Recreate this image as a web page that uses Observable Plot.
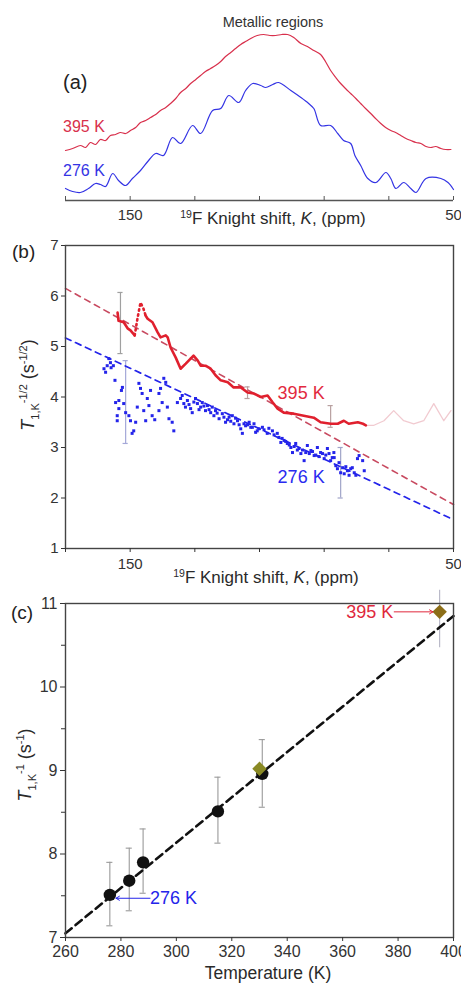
<!DOCTYPE html>
<html><head><meta charset="utf-8">
<script src="https://cdn.jsdelivr.net/npm/d3@7"></script>
<script src="https://cdn.jsdelivr.net/npm/@observablehq/plot@0.6"></script>
<style>
body{margin:0;background:#fff;}
#wrap{position:relative;width:461px;height:984px;overflow:hidden;background:#fff;}
#wrap svg{position:absolute;left:0;overflow:visible;}
</style></head><body><div id="wrap"></div>
<script>
// ---------- Panel (a): 19F spectra (ppm, intensity a.u.) ----------
const spec395 = [[170,50],[167.8,52],[165.4,55],[163.8,53],[162.3,58],[160.7,56],[159.2,61],[157.6,60],[156.1,65],[154.5,66],[153,68],[151.4,67],[149.9,70],[148.3,73],[146.8,78],[145.2,80],[143.7,83],[142.1,86],[140.6,90],[139,93],[137.5,97],[135.9,102],[134.4,108],[132.8,112],[131.3,117],[129.7,121],[128.2,125],[126.7,129],[125.1,132],[123.6,135],[122,139],[120.5,144],[118.9,148],[117.4,152],[115.8,156],[114.3,159],[112.7,162],[110.7,165],[108.7,166],[106.8,165],[105,165],[103.1,166],[101.3,166],[99.4,163],[97.2,157],[95.2,154],[93.2,150],[91.1,146],[89.6,139],[88,130],[86.4,123],[84.9,117],[83.4,112],[81.8,107],[80.2,102],[78.7,97],[77.2,92],[75.6,87],[74.1,82],[72.5,77],[71,73],[69.4,70],[67.9,68],[66.3,65],[64.7,62],[63.2,60],[61.6,58],[60.1,57],[58.5,54],[57,53],[55.5,54],[53.9,52],[52.4,51],[50.8,51]];
const spec276 = [[170,12],[167.8,9],[165.4,8],[162.9,12],[160.7,17],[159.2,16],[157.6,14],[155.4,27],[153.6,20],[151.4,15],[149.3,22],[146.8,30],[144.3,40],[142.1,47],[139.7,45],[136.9,63],[134.4,57],[130.7,75],[128.2,67],[124.5,90],[122,92],[119.5,105],[116.4,98],[114.3,110],[112.1,117],[109.6,115],[108.1,113],[105.9,116],[104.1,118],[100.3,110],[97.2,103],[94.8,97],[93.2,92],[91.1,75],[88,75],[85.8,67],[84,60],[81.8,57],[80.5,45],[78.7,35],[76.5,22],[74,18],[70.9,28],[69.4,22],[67.8,12],[65.4,18],[63.2,12],[61.6,8],[58.5,22],[53.9,22],[51.7,18],[50,11]];
const shiftTicks = [170,150,130,110,90,70,50];
const shiftLabels = [150,50];

// ---------- Panel (b): T1,K^-1/2 vs Knight shift ----------
const rate395a = [[153.9,5.67],[153.6,5.51],[152.0,5.48],[150.8,5.36],[149.9,5.32],[148.6,5.22]];
const rate395dotted = [[148.6,5.22],[147.7,5.57],[146.8,5.87],[145.9,5.75],[145.2,5.61]];
const rate395b = [[145.2,5.61],[144.6,5.55],[143.1,5.48],[141.5,5.28],[140.6,5.18],[139.0,5.22],[138.4,5.18],[137.5,4.98],[135.9,4.78],[134.4,4.56],[132.8,4.66],[131.3,4.76],[130.4,4.82],[129.1,4.72],[128.2,4.62],[126.7,4.62],[125.1,4.56],[123.6,4.43],[122.0,4.33],[119.8,4.29],[118.0,4.19],[115.8,4.19],[113.7,4.09],[111.8,4.07],[109.6,4.0],[107.5,4.03],[105.9,3.89],[104.4,3.77],[102.5,3.69],[99.4,3.67],[96.3,3.63],[93.2,3.59],[91.1,3.5],[88.0,3.47],[85.8,3.47],[83.9,3.53],[82.4,3.47],[79.6,3.5],[78.0,3.47],[77.1,3.44]];
const rate395faint = [[77.1,3.44],[74.6,3.44],[71.5,3.53],[68.5,3.73],[65.4,3.53],[62.3,3.47],[59.2,3.53],[56.1,3.87],[53.0,3.53],[50.8,3.73]];
const rate276 = [[158.1,4.56],[157.6,4.49],[157.1,4.62],[156.6,4.76],[156.1,4.68],[155.9,4.58],[155.2,4.62],[154.7,4.33],[152.4,4.19],[152.7,4.13],[154.5,3.89],[153.5,3.93],[152.0,3.87],[153.5,3.77],[151.4,3.69],[154.0,3.63],[154.0,3.53],[150.4,3.63],[149.9,3.53],[148.3,3.50],[148.9,3.33],[149.4,3.28],[147.3,4.27],[146.8,4.17],[146.3,4.07],[147.8,3.80],[145.8,3.73],[144.7,3.97],[144.2,3.83],[145.2,3.53],[143.2,3.63],[142.4,3.55],[143.7,4.13],[141.1,4.07],[140.6,4.17],[139.6,4.37],[139.0,4.29],[140.1,3.89],[141.1,3.73],[138.5,3.80],[138.0,3.57],[137.0,3.50],[136.5,3.33],[135.4,3.89],[134.4,3.97],[133.9,4.03],[133.4,3.87],[132.9,3.80],[132.3,3.93],[131.8,3.85],[131.3,3.77],[130.8,3.69],[130.3,3.90],[129.8,3.97],[129.2,3.87],[128.7,3.75],[128.2,3.80],[127.7,3.89],[127.2,3.82],[126.7,3.73],[126.1,3.83],[125.6,3.75],[125.1,3.69],[124.6,3.80],[124.1,3.63],[123.6,3.73],[123.1,3.68],[122.5,3.57],[121.5,3.67],[121.0,3.60],[120.5,3.50],[119.9,3.55],[119.4,3.60],[118.9,3.52],[118.4,3.63],[117.9,3.47],[117.4,3.58],[116.8,3.53],[116.3,3.45],[115.8,3.37],[115.3,3.28],[114.8,3.47],[114.3,3.43],[113.7,3.45],[113.2,3.50],[112.7,3.40],[112.2,3.40],[111.7,3.47],[111.2,3.30],[110.7,3.33],[110.2,3.37],[109.1,3.40],[108.6,3.35],[107.6,3.28],[107.1,3.38],[106.0,3.33],[105.5,3.25],[104.5,3.28],[104.0,3.20],[103.4,3.10],[103.0,3.18],[102.4,3.14],[101.9,3.12],[101.4,3.08],[100.8,3.05],[100.3,3.00],[99.8,2.90],[99.3,3.02],[98.8,3.08],[98.3,2.95],[97.8,2.98],[97.2,2.88],[96.7,2.95],[96.2,2.74],[95.7,2.90],[95.2,3.04],[94.6,2.88],[94.1,2.94],[93.6,2.92],[93.1,2.84],[92.6,2.85],[92.1,3.00],[91.6,2.82],[91.1,2.90],[90.5,2.88],[90.0,2.78],[89.5,2.85],[89.0,2.98],[88.5,2.88],[88.0,2.74],[87.5,2.80],[87.0,2.90],[86.9,2.80],[86.4,2.64],[85.9,2.58],[85.4,2.70],[84.9,2.50],[84.3,2.60],[83.8,2.48],[83.3,2.62],[82.8,2.54],[82.3,2.45],[81.8,2.58],[81.3,2.60],[80.7,2.50],[80.2,2.45],[79.7,2.78],[79.2,2.84],[78.1,2.74],[77.6,2.54]];
const fitShift = [170, 50];
const fit395 = [6.15, 1.87];
const fit276 = [5.17, 1.57];
const errBShift = [153.0, 151.4, 113.7, 88.0, 84.9];
const errBLow = [4.86, 3.08, 3.97, 3.40, 2.00];
const errBHigh = [6.07, 4.72, 4.20, 3.83, 3.00];
const errBColor = ["#a0a0a0", "#a4a8d8", "#b8a0a0", "#b8a0a0", "#a0a4c8"];
const rateTicks = [1,2,3,4,5,6,7];
const annBShift = [104.4, 104.4];
const annBRate = [4.07, 2.41];
const annBText = ["395 K", "276 K"];

// ---------- Panel (c): T1,K^-1 vs temperature ----------
const tempK = [276, 283, 288, 315, 331];
const rateInv = [7.51, 7.68, 7.90, 8.51, 8.96];
const rateInvLow = [7.14, 7.32, 7.53, 8.13, 8.56];
const rateInvHigh = [7.90, 8.07, 8.30, 8.92, 9.37];
const diamondT = [330, 395];
const diamondRate = [9.02, 10.90];
const diamondColor = ["#8a8a24", "#8c6e18"];
const err395Low = [10.47];
const err395High = [11.16];
const fitT = [260, 400];
const fitRate = [7.05, 10.85];
const tempTicks = [260,280,300,320,340,360,380,400];
const invTicks = [7,8,9,10,11];
const invMinor = [7.5,8.5,9.5,10.5];
const arrow395 = {t1: 378.6, t2: 392.6, r: 10.90, label: "395 K"};
const arrow276 = {t1: 290.5, t2: 278.2, r: 7.47, label: "276 K"};

const FONT = "'Liberation Sans', Arial, Helvetica, sans-serif";
const RED = "#e0202e", BLUE = "#2424ea";
const wrap = document.getElementById("wrap");
const baseStyle = {fontFamily: FONT, fontSize: "15px", color: "#333", background: "transparent", overflow: "visible"};
const intFmt = d => String(d);

function rich(svg, {x, y, rotate = 0, anchor = "middle", parts, fill = "#2a2a2a"}) {
  const t = d3.select(svg).append("text")
    .attr("transform", `translate(${x},${y}) rotate(${rotate})`)
    .attr("text-anchor", anchor).attr("fill", fill)
    .style("font-family", FONT);
  for (const p of parts) {
    const s = t.append("tspan").text(p.t).attr("font-size", p.s).attr("dy", p.dy || 0);
    if (p.i) s.attr("font-style", "italic");
  }
  return t;
}
const shiftLabelParts = [
  {t: "19", s: 10.5, dy: -6}, {t: "F Knight shift, ", s: 17, dy: 6},
  {t: "K", s: 17, i: true}, {t: ", (ppm)", s: 17}
];

// ---- Panel (a)
const svgA = Plot.plot({
  width: 461, height: 232, marginLeft: 65, marginRight: 8, marginTop: 0, marginBottom: 32,
  x: {domain: [170, 50]}, y: {domain: [0, 200], axis: null},
  style: baseStyle,
  marks: [
    Plot.ruleY([0], {stroke: "#555", strokeWidth: 1.3}),
    Plot.ruleX(shiftTicks, {x: d => d, y1: 0, y2: 4, stroke: "#555", strokeWidth: 1}),
    Plot.axisX({ticks: shiftLabels, tickSize: 0, tickPadding: 9, fontSize: 15, label: null, tickFormat: intFmt}),
    Plot.line(spec395, {x: d => d[0], y: d => d[1], stroke: "#d8304c", strokeWidth: 1.2, curve: "catmull-rom"}),
    Plot.line(spec276, {x: d => d[0], y: d => d[1], stroke: "#3434e4", strokeWidth: 1.2, curve: "catmull-rom"})
  ]
});
svgA.style.top = "0px";
wrap.appendChild(svgA);
rich(svgA, {x: 273, y: 27, parts: [{t: "Metallic regions", s: 14.5}], fill: "#333"});
rich(svgA, {x: 63, y: 89, anchor: "start", parts: [{t: "(a)", s: 20}], fill: "#222"});
rich(svgA, {x: 63, y: 132, anchor: "start", parts: [{t: "395 K", s: 16}], fill: "#d8304c"});
rich(svgA, {x: 63, y: 176, anchor: "start", parts: [{t: "276 K", s: 16}], fill: "#3434e4"});
rich(svgA, {x: 273, y: 224, parts: shiftLabelParts, fill: "#2a2a2a"});

// ---- Panel (b)
const fitRows = fitShift.map((k, i) => ({k, a: fit395[i], b: fit276[i]}));
const errRows = errBShift.map((k, i) => ({k, lo: errBLow[i], hi: errBHigh[i], c: errBColor[i]}));
const annRows = annBShift.map((k, i) => ({k, v: annBRate[i], t: annBText[i]}));
const svgB = Plot.plot({
  width: 461, height: 360, marginLeft: 65, marginRight: 8, marginTop: 13, marginBottom: 44,
  x: {domain: [170, 50]}, y: {domain: [1, 7]},
  style: baseStyle,
  marks: [
    Plot.ruleX(errRows, {x: "k", y1: "lo", y2: "hi", stroke: d => d.c, strokeWidth: 1.2}),
    Plot.ruleY(errRows, {y: "hi", x1: d => d.k + 0.8, x2: d => d.k - 0.8, stroke: d => d.c, strokeWidth: 1.2}),
    Plot.ruleY(errRows, {y: "lo", x1: d => d.k + 0.8, x2: d => d.k - 0.8, stroke: d => d.c, strokeWidth: 1.2}),
    Plot.line(rate395faint, {x: d => d[0], y: d => d[1], stroke: "#e08a96", strokeOpacity: 0.45, strokeWidth: 1.3}),
    Plot.line(fitRows, {x: "k", y: "a", stroke: "#c84a60", strokeWidth: 1.6, strokeDasharray: "6,5"}),
    Plot.line(fitRows, {x: "k", y: "b", stroke: BLUE, strokeWidth: 1.7, strokeDasharray: "6,5"}),
    Plot.dot(rate276, {x: d => d[0], y: d => d[1], r: 1.7, symbol: "square", fill: BLUE, stroke: "none"}),
    Plot.line(rate395a, {x: d => d[0], y: d => d[1], stroke: RED, strokeWidth: 2.6}),
    Plot.line(rate395dotted, {x: d => d[0], y: d => d[1], stroke: RED, strokeWidth: 2.6, strokeDasharray: "1.5,3.5", strokeLinecap: "round"}),
    Plot.line(rate395b, {x: d => d[0], y: d => d[1], stroke: RED, strokeWidth: 2.6}),
    Plot.text(annRows.slice(0, 1), {x: "k", y: "v", text: "t", textAnchor: "start", fontSize: 18, fill: "#e22a40"}),
    Plot.text(annRows.slice(1), {x: "k", y: "v", text: "t", textAnchor: "start", fontSize: 18, fill: "#2a2af0"}),
    Plot.frame({stroke: "#444", strokeWidth: 1.4}),
    Plot.axisY({ticks: rateTicks, tickSize: 4, tickPadding: 3, fontSize: 15, label: null, tickFormat: intFmt}),
    Plot.axisX({ticks: shiftTicks, tickSize: 4, tickPadding: 6, fontSize: 15, label: null,
      tickFormat: d => shiftLabels.includes(d) ? String(d) : ""})
  ]
});
svgB.style.top = "232px";
wrap.appendChild(svgB);
rich(svgB, {x: 12, y: 26, anchor: "start", parts: [{t: "(b)", s: 19}], fill: "#222"});
rich(svgB, {x: 34, y: 153, rotate: -90, parts: [
  {t: "T", s: 18, i: true}, {t: "1,K", s: 11, dy: 5}, {t: "-1/2", s: 11, dy: -12},
  {t: " (s", s: 18, dy: 7}, {t: "-1/2", s: 11, dy: -7}, {t: ")", s: 18, dy: 7}
]});
rich(svgB, {x: 266, y: 351, parts: shiftLabelParts});

// ---- Panel (c)
const ptRows = tempK.map((t, i) => ({t, v: rateInv[i], lo: rateInvLow[i], hi: rateInvHigh[i]}));
const diaRows = diamondT.map((t, i) => ({t, v: diamondRate[i], c: diamondColor[i]}));
const err395Rows = err395Low.map((lo, i) => ({t: diamondT[1], lo, hi: err395High[i]}));
const fitCRows = fitT.map((t, i) => ({t, v: fitRate[i]}));
const svgC = Plot.plot({
  width: 461, height: 392, marginLeft: 65, marginRight: 8, marginTop: 11, marginBottom: 47,
  x: {domain: [260, 400]}, y: {domain: [7, 11]},
  style: baseStyle,
  marks: [
    Plot.ruleX(ptRows, {x: "t", y1: "lo", y2: "hi", stroke: "#9a9a9a", strokeWidth: 1.1}),
    Plot.ruleY(ptRows, {y: "hi", x1: d => d.t - 1.1, x2: d => d.t + 1.1, stroke: "#9a9a9a", strokeWidth: 1.1}),
    Plot.ruleY(ptRows, {y: "lo", x1: d => d.t - 1.1, x2: d => d.t + 1.1, stroke: "#9a9a9a", strokeWidth: 1.1}),
    Plot.ruleX(err395Rows, {x: "t", y1: "lo", y2: "hi", stroke: "#b4b4c4", strokeWidth: 1.1}),
    Plot.line(fitCRows, {x: "t", y: "v", stroke: "#111", strokeWidth: 2.6, strokeDasharray: "8,5"}),
    Plot.dot(ptRows, {x: "t", y: "v", r: 6.2, fill: "#111", stroke: "none"}),
    Plot.dot(diaRows, {x: "t", y: "v", r: 6.5, symbol: "diamond2", fill: d => d.c, stroke: "none"}),
    Plot.arrow([arrow395], {x1: "t1", x2: "t2", y1: "r", y2: "r", stroke: "#e0283c", strokeWidth: 1, headLength: 6}),
    Plot.arrow([arrow276], {x1: "t1", x2: "t2", y1: "r", y2: "r", stroke: BLUE, strokeWidth: 1, headLength: 6}),
    Plot.text([arrow395], {x: "t1", y: "r", text: "label", textAnchor: "end", dx: -1, fontSize: 18, fill: "#e0283c"}),
    Plot.text([arrow276], {x: "t1", y: "r", text: "label", textAnchor: "start", dx: 0, fontSize: 18, fill: BLUE}),
    Plot.frame({stroke: "#444", strokeWidth: 1.4}),
    Plot.axisY({ticks: invTicks, tickSize: 5, tickPadding: 3, fontSize: 16, label: null, tickFormat: intFmt}),
    Plot.axisY({ticks: invMinor, tickSize: 4, tickFormat: () => "", label: null}),
    Plot.axisX({ticks: tempTicks, tickSize: 4, tickPadding: 4, fontSize: 16, label: null, tickFormat: intFmt})
  ]
});
svgC.style.top = "592px";
wrap.appendChild(svgC);
rich(svgC, {x: 11, y: 27, anchor: "start", parts: [{t: "(c)", s: 19}], fill: "#222"});
rich(svgC, {x: 31, y: 173, rotate: -90, parts: [
  {t: "T", s: 18, i: true}, {t: "1,K", s: 11, dy: 5}, {t: "-1", s: 11, dy: -12},
  {t: " (s", s: 18, dy: 7}, {t: "-1", s: 11, dy: -7}, {t: ")", s: 18, dy: 7}
]});
rich(svgC, {x: 268, y: 387, parts: [{t: "Temperature (K)", s: 17.5}]});
</script>
</body></html>
